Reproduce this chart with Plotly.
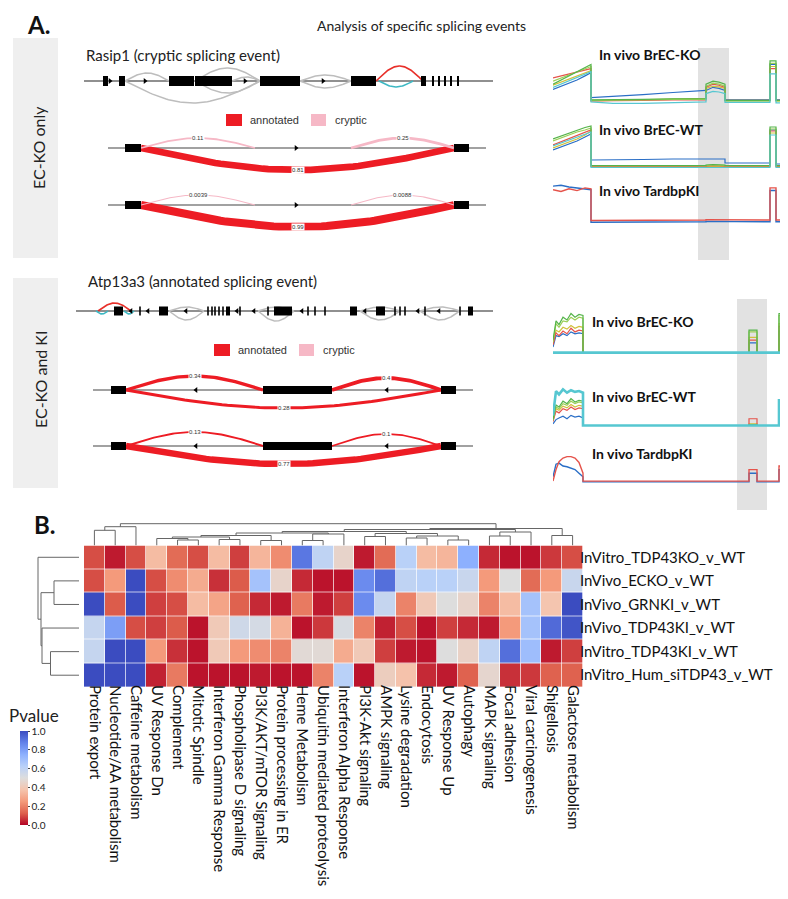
import numpy as np
import plotly.graph_objects as go

W, H = 788, 899
FONT = "Lato, 'Open Sans', sans-serif"

# ---------------- Panel B data ----------------
pathways = ["Protein export", "Nucleotide/AA metabolism", "Caffeine metabolism", "UV Response Dn",
            "Complement", "Mitotic Spindle", "Interferon Gamma Response", "Phospholipase D signaling",
            "PI3K/AKT/mTOR Signaling", "Protein processing in ER", "Heme Metabolism",
            "Ubiquitin mediated proteolysis", "Interferon Alpha Response", "PI3K-Akt signaling",
            "AMPK signaling", "Lysine degradation", "Endocytosis", "UV Response Up", "Autophagy",
            "MAPK signaling", "Focal adhesion", "Viral carcinogenesis", "Shigellosis",
            "Galactose metabolism"]
comparisons = ["InVitro_TDP43KO_v_WT", "InVivo_ECKO_v_WT", "InVivo_GRNKI_v_WT",
               "InVivo_TDP43KI_v_WT", "InVitro_TDP43KI_v_WT", "InVitro_Hum_siTDP43_v_WT"]
pv_invitro_tdp43ko = [0.10, 0.03, 0.10, 0.35, 0.15, 0.10, 0.35, 0.08, 0.33, 0.22, 0.90, 0.60,
                      0.45, 0.03, 0.15, 0.62, 0.35, 0.33, 0.75, 0.05, 0.02, 0.02, 0.07, 0.10]
pv_invivo_ecko = [0.10, 0.25, 1.00, 0.10, 0.22, 0.30, 0.06, 0.12, 0.68, 0.45, 0.05, 0.02,
                  0.02, 0.85, 0.92, 0.60, 0.62, 0.62, 0.57, 0.25, 0.50, 0.15, 0.25, 0.57]
pv_invivo_grnki = [1.00, 0.12, 1.00, 0.08, 0.10, 0.35, 0.28, 0.13, 0.05, 0.03, 0.18, 0.03,
                   0.08, 0.85, 0.58, 0.20, 0.40, 0.50, 0.45, 0.20, 0.35, 0.68, 0.38, 1.00]
pv_invivo_tdp43ki = [0.58, 0.80, 0.10, 0.08, 0.12, 0.02, 0.40, 0.55, 0.53, 0.32, 0.02, 0.07,
                     0.52, 0.20, 0.04, 0.10, 0.02, 0.08, 0.05, 0.03, 0.25, 0.68, 0.93, 0.98]
pv_invitro_tdp43ki = [0.58, 1.00, 1.00, 0.25, 0.06, 0.02, 0.40, 0.25, 0.22, 0.20, 0.48, 0.48,
                      0.30, 0.40, 0.08, 0.03, 0.02, 0.50, 0.44, 0.60, 0.92, 0.70, 0.03, 0.08]
pv_invitro_hum_sitdp43 = [1.00, 1.00, 1.00, 0.04, 0.18, 0.02, 0.02, 0.02, 0.03, 0.02, 0.02, 0.20,
                          0.62, 0.02, 0.42, 0.37, 0.05, 0.03, 0.13, 0.46, 0.06, 0.07, 0.13, 0.13]
pvalues = [pv_invitro_tdp43ko, pv_invivo_ecko, pv_invivo_grnki,
           pv_invivo_tdp43ki, pv_invitro_tdp43ki, pv_invitro_hum_sitdp43]
cbar_ticks = [0.0, 0.2, 0.4, 0.6, 0.8, 1.0]

# dendrogram linkages: (child_a, child_b, height); new clusters numbered after leaves
col_linkage = [
    (4, 5, 5.5), (3, 24, 7.0), (6, 7, 6.0), (25, 26, 8.5), (8, 9, 5.0), (27, 28, 10.0),
    (10, 11, 5.0), (30, 12, 11.5), (0, 1, 15.2), (32, 2, 18.8), (13, 14, 9.0), (15, 16, 7.5),
    (17, 18, 5.5), (35, 36, 9.5), (34, 37, 12.0), (19, 20, 9.5), (39, 21, 13.5), (22, 23, 10.0),
    (29, 31, 12.5), (42, 38, 14.0), (43, 40, 16.0), (44, 41, 17.0), (33, 45, 21.8),
]
row_linkage = [(4, 5, 28.5), (1, 2, 25.0), (3, 6, 37.0), (7, 8, 38.0), (0, 9, 41.0)]

# ---------------- Panel A data ----------------
rasip1_span = [16, 425]
rasip1_exons = [(35, 40), (51, 57), (101, 126), (127, 164), (192, 232), (283, 308), (353, 358),
                (364, 366), (370, 372), (376, 378), (382, 384), (389, 391)]
rasip1_arrows = [42, 77, 177, 255]
rasip1_grey_arcs = [(57, 101, 8), (57, 192, -22), (127, 192, 13), (127, 192, -12),
                    (164, 192, 4), (232, 283, 6), (232, 283, -7)]
rasip1_red_arcs = [(308, 355, 15)]
rasip1_teal_arcs = [(311, 345, -6)]

rasip1_sashimi_span = [40, 418]
rasip1_sashimi_exons = [(57, 73), (386, 401)]
rasip1_sashimi_arrows = [228]
rasip1_junctions = [(73, 386, -22, "annotated"), (73, 187, 10, "cryptic"), (283, 386, 10, "cryptic")]
rasip1_psi_track1 = [0.81, 0.11, 0.25]
rasip1_psi_track2 = [0.99, 0.0039, 0.0088]

atp_span = [8, 425]
atp_exons = [(46, 55), (91, 100), (158, 162), (206, 224), (282, 289), (308, 317), (400, 405)]
atp_bars = [72, 140, 144, 147, 151, 155, 172, 200, 240, 247, 257, 327, 332, 337, 357, 392]
atp_arrows = [63, 80, 118, 169, 186, 234, 297, 350, 371]
atp_grey_arcs = [(101, 136, -9), (101, 136, 4), (190, 226, -10), (190, 226, 4),
                 (292, 332, -9), (292, 332, 4), (352, 392, -9), (352, 392, 4)]
atp_red_arcs = [(30, 63, 8)]
atp_teal_arcs = [(28, 40, -3), (56, 66, -3)]

atp_sashimi_span = [25, 405]
atp_sashimi_exons = [(43, 58), (195, 264), (373, 388)]
atp_sashimi_arrows = [128, 319]
atp_junctions = [(58, 195, 14, "annotated"), (264, 373, 12, "annotated"), (58, 373, -18, "annotated")]
atp_psi_track1 = [0.34, 0.4, 0.28]
atp_psi_track2 = [0.13, 0.1, 0.77]

sample_names = ["blue", "yellow", "red", "lime", "green", "teal"]
sample_colors = {"green": "#55b44a", "lime": "#9ccf55", "red": "#e5534b",
                 "yellow": "#d1bf3c", "blue": "#2a6ec6", "teal": "#56c7d1"}
rasip1_cov_x = [0, 8, 16, 24, 32, 38, 38, 60, 90, 120, 145, 153, 153, 160, 166, 172, 172,
                200, 217, 217, 223, 223, 232, 232, 238, 243]
rasip1_ko = {
    "green":  [40, 48, 56, 64, 72, 78, 10, 10, 11, 12, 12, 12, 40, 46, 44, 40, 9, 9, 9, 85, 85, 9, 9, 90, 90, 88],
    "lime":   [46, 52, 58, 64, 70, 74, 9, 9, 10, 11, 11, 11, 36, 42, 40, 36, 8, 8, 8, 80, 80, 8, 8, 86, 86, 84],
    "red":    [52, 56, 60, 63, 67, 70, 8, 8, 9, 10, 10, 10, 34, 40, 38, 34, 9, 9, 9, 70, 70, 9, 9, 76, 76, 74],
    "yellow": [38, 44, 50, 56, 62, 66, 8, 9, 10, 12, 13, 13, 32, 36, 35, 32, 8, 8, 8, 74, 74, 8, 8, 80, 80, 78],
    "blue":   [30, 36, 42, 48, 56, 62, 14, 16, 20, 24, 28, 28, 28, 34, 32, 28, 10, 10, 10, 78, 78, 10, 10, 84, 84, 82],
    "teal":   [34, 40, 46, 52, 58, 64, 6, 3, 3, 5, 6, 6, 22, 26, 25, 22, 5, 5, 5, 60, 60, 4, 4, 66, 66, 64],
}
rasip1_wt = {
    "green":  [62, 68, 74, 80, 85, 88, 9, 9, 9, 9, 9, 9, 10, 11, 11, 10, 9, 9, 9, 86, 86, 9, 9, 90, 90, 88],
    "lime":   [58, 64, 70, 76, 80, 84, 8, 8, 8, 8, 8, 8, 9, 10, 10, 9, 8, 8, 8, 82, 82, 8, 8, 86, 86, 84],
    "red":    [50, 56, 62, 68, 74, 80, 7, 7, 7, 7, 7, 7, 8, 9, 9, 8, 7, 7, 7, 78, 78, 7, 7, 82, 82, 80],
    "yellow": [44, 50, 56, 62, 70, 78, 7, 7, 7, 7, 7, 7, 8, 8, 8, 8, 7, 7, 7, 74, 74, 7, 7, 80, 80, 78],
    "blue":   [40, 46, 52, 58, 66, 72, 20, 20, 21, 22, 22, 22, 22, 22, 22, 22, 14, 14, 14, 80, 80, 12, 12, 84, 84, 82],
    "teal":   [48, 54, 60, 66, 72, 76, 5, 5, 5, 5, 5, 5, 6, 6, 6, 6, 5, 5, 5, 70, 70, 5, 5, 74, 74, 72],
}
rasip1_ki = {
    "blue": [86, 88, 84, 82, 80, 78, 4, 4, 4, 4, 5, 5, 6, 6, 6, 6, 5, 5, 5, 76, 76, 5, 5, 80, 80, 80],
    "red":  [78, 74, 80, 76, 82, 80, 8, 8, 8, 9, 9, 9, 10, 10, 10, 10, 9, 9, 9, 82, 82, 9, 9, 86, 86, 86],
}
atp_cov_x = [0, 3, 6, 10, 14, 18, 22, 26, 30, 30, 100, 196, 196, 204, 204, 226, 226, 236, 236, 243]
atp_ko = {
    "green":  [30, 72, 64, 80, 74, 88, 80, 86, 84, 3, 3, 3, 52, 52, 3, 3, 88, 88, 3, 3],
    "lime":   [25, 66, 58, 72, 70, 80, 74, 80, 78, 3, 3, 3, 48, 48, 3, 3, 84, 84, 3, 3],
    "red":    [20, 46, 40, 50, 44, 56, 48, 52, 50, 3, 3, 3, 30, 30, 3, 3, 60, 60, 3, 3],
    "yellow": [22, 52, 48, 58, 54, 62, 56, 60, 58, 3, 3, 3, 36, 36, 3, 3, 66, 66, 3, 3],
    "blue":   [15, 40, 38, 44, 40, 48, 44, 46, 44, 3, 3, 3, 24, 24, 3, 3, 50, 50, 3, 3],
    "teal":   [3, 3, 3, 3, 3, 3, 3, 3, 3, 3, 3, 3, 3, 3, 3, 3, 3, 3, 3, 3],
}
atp_wt = {
    "green":  [20, 55, 50, 64, 58, 70, 62, 66, 64, 6, 6, 6, 8, 8, 6, 6, 62, 62, 6, 6],
    "lime":   [18, 50, 46, 58, 54, 64, 58, 62, 60, 6, 6, 6, 8, 8, 6, 6, 58, 58, 6, 6],
    "red":    [15, 40, 36, 46, 42, 50, 44, 48, 46, 6, 6, 6, 22, 22, 6, 6, 48, 48, 6, 6],
    "yellow": [18, 46, 42, 52, 48, 56, 50, 54, 52, 6, 6, 6, 10, 10, 6, 6, 54, 54, 6, 6],
    "blue":   [10, 20, 24, 28, 22, 30, 26, 28, 24, 6, 6, 6, 8, 8, 6, 6, 30, 30, 6, 6],
    "teal":   [30, 88, 80, 92, 84, 90, 86, 88, 84, 6, 6, 6, 6, 6, 6, 6, 66, 66, 6, 6],
}
atp_ki = {
    "blue": [20, 55, 58, 50, 48, 44, 40, 30, 20, 6, 6, 6, 30, 30, 6, 6, 40, 40, 6, 6],
    "red":  [8, 40, 62, 72, 76, 76, 72, 60, 30, 8, 8, 8, 40, 40, 8, 8, 50, 50, 8, 8],
}
rasip1_band = (145, 176)
atp_band = (184, 214)
coverage_titles = ["In vivo BrEC-KO", "In vivo BrEC-WT", "In vivo TardbpKI"]

# ---------------- helpers ----------------
fig = go.Figure()
axes = {}
shapes = []
annots = []


def add_axes(i, px0, px1, py0, py1, xr, yr):
    xn = "xaxis" if i == 1 else f"xaxis{i}"
    yn = "yaxis" if i == 1 else f"yaxis{i}"
    xs = "x" if i == 1 else f"x{i}"
    ys = "y" if i == 1 else f"y{i}"
    base = dict(showgrid=False, zeroline=False, showticklabels=False, ticks="",
                showline=False, fixedrange=True)
    axes[xn] = dict(domain=[px0 / W, px1 / W], range=xr, anchor=ys, **base)
    axes[yn] = dict(domain=[1 - py1 / H, 1 - py0 / H], range=yr, anchor=xs, **base)
    return xs, ys


def line(ax, x, y, color, width):
    fig.add_trace(go.Scatter(x=x, y=y, mode="lines", line=dict(color=color, width=width),
                             xaxis=ax[0], yaxis=ax[1], hoverinfo="skip", showlegend=False))


def arc(ax, a, b, h, color, width):
    t = np.linspace(0, 1, 60)
    line(ax, a + (b - a) * t, h * np.sin(np.pi * t), color, width)


def rect(ax, a, b, hh, color="black"):
    shapes.append(dict(type="rect", xref=ax[0], yref=ax[1], x0=a, x1=b, y0=-hh, y1=hh,
                       fillcolor=color, line=dict(width=0), layer="above"))


def text(xp, yp, s, size, color="#222", bold=False, angle=0, xanchor="left", fam=FONT):
    annots.append(dict(x=xp / W, y=1 - yp / H, xref="paper", yref="paper",
                       text=(f"<b>{s}</b>" if bold else s), borderpad=0,
                       showarrow=False, xanchor=xanchor, yanchor="middle", textangle=angle,
                       font=dict(size=size, color=color, family=fam)))


def paper_rect(x0, x1, y0, y1, color, layer="below"):
    shapes.append(dict(type="rect", xref="paper", yref="paper", x0=x0 / W, x1=x1 / W,
                       y0=1 - y1 / H, y1=1 - y0 / H, fillcolor=color, line=dict(width=0), layer=layer))


def dendro(linkage, n):
    pos = {i: float(i) for i in range(n)}
    hgt = {i: 0.0 for i in range(n)}
    xs, ys = [], []
    for k, (a, b, h) in enumerate(linkage):
        xs += [pos[a], pos[a], pos[b], pos[b], None]
        ys += [hgt[a], h, h, hgt[b], None]
        pos[n + k] = (pos[a] + pos[b]) / 2
        hgt[n + k] = h
    return xs, ys


RED, PINK, GREY, TEAL = "#ed1c24", "#f6b8c6", "#bdbdbd", "#3db8c3"

# ---------------- Panel B ----------------
coolwarm_r = [[0.0, "#b40426"], [0.125, "#de604d"], [0.25, "#f49a7b"], [0.375, "#f5c4ad"],
              [0.5, "#dddddd"], [0.625, "#b8d0f9"], [0.75, "#8db0fe"], [0.875, "#6282ea"],
              [1.0, "#3b4cc0"]]
hx, hy = add_axes(1, 76, 575, 537.5, 679, [-0.5, 23.5], [5.5, -0.5])
fig.add_trace(go.Heatmap(
    z=pvalues, x=list(range(len(pathways))), y=list(range(len(comparisons))),
    zmin=0, zmax=1, colorscale=coolwarm_r, xgap=0.7, ygap=0.7, hoverinfo="skip",
    colorbar=dict(x=12 / W, xanchor="left", y=1 - 817 / H, yanchor="bottom", len=94 / H,
                  thickness=8, outlinewidth=0, xpad=0, ypad=0, tickvals=cbar_ticks,
                  ticktext=[f"{v:.1f}" for v in cbar_ticks], ticks="outside", ticklen=2,
                  tickfont=dict(size=10, family="'Liberation Sans Narrow', " + FONT, color="#222"))))
axes["xaxis"].update(showticklabels=True, tickvals=list(range(len(pathways))), ticktext=pathways,
                     tickangle=90, ticklabelstandoff=-3,
                     tickfont=dict(size=15, family=FONT, color="#111"))
axes["yaxis"].update(showticklabels=True, tickvals=list(range(len(comparisons))), ticktext=comparisons,
                     side="right", ticklabelstandoff=-4,
                     tickfont=dict(size=15, family=FONT, color="#111"))
text(0, 707, "Pvalue", 17)

cdx, cdy = dendro(col_linkage, len(pathways))
ax2 = add_axes(2, 76, 575, 505, 537.5, [-0.5, 23.5], [0, 32.5])
line(ax2, cdx, cdy, "#666", 1)
rdy, rdx = dendro(row_linkage, len(comparisons))
ax3 = add_axes(3, 25, 71, 537.5, 679, [46, 0], [5.5, -0.5])
line(ax3, rdx, rdy, "#666", 1)
text(25, 516, "B.", 24, "#111", bold=True)

# ---------------- Panel A ----------------
text(18, 16, "A.", 24, "#111", bold=True)
text(413, 17, "Analysis of specific splicing events", 14, xanchor="center")
paper_rect(5, 50, 30, 250, "#efefef")
paper_rect(5, 50, 270, 480, "#efefef")
text(31, 140, "EC-KO only", 16, angle=-90, xanchor="center")
text(33, 372, "EC-KO and KI", 16, angle=-90, xanchor="center")

# Rasip1 gene model
text(77, 47, "Rasip1 (cryptic splicing event)", 15)
g1 = add_axes(4, 60, 495, 38, 108, [0, 435], [-35, 35])
line(g1, rasip1_span, [0, 0], "#222", 1.2)
for a, b, h in rasip1_grey_arcs:
    arc(g1, a, b, h, GREY, 1.5)
for a, b, h in rasip1_red_arcs:
    arc(g1, a, b, h, "#e8302a", 1.6)
for a, b, h in rasip1_teal_arcs:
    arc(g1, a, b, h, TEAL, 1.6)
for a, b in rasip1_exons:
    rect(g1, a, b, 5)
fig.add_trace(go.Scatter(x=rasip1_arrows, y=[0] * len(rasip1_arrows), mode="markers",
                         marker=dict(symbol="triangle-right", size=5, color="black"),
                         xaxis=g1[0], yaxis=g1[1], hoverinfo="skip", showlegend=False))


def legend(x_red, yc):
    paper_rect(x_red, x_red + 16, yc - 6, yc + 6, RED, "above")
    text(x_red + 23, yc, "annotated", 11, "#333", fam="'Liberation Sans', Arial, sans-serif")
    paper_rect(x_red + 85, x_red + 100, yc - 6, yc + 6, PINK, "above")
    text(x_red + 108, yc, "cryptic", 11, "#333", fam="'Liberation Sans', Arial, sans-serif")


legend(218, 112)


def sashimi(i, line_y, span, exons, arrows, arrow_sym, juncs, psis):
    ax = add_axes(i, 60, 495, line_y - 35, line_y + 35, [0, 435], [-35, 35])
    line(ax, span, [0, 0], "#444", 1.2)
    for (a, b, h, kind), p in zip(juncs, psis):
        col = RED if kind == "annotated" else PINK
        arc(ax, a, b, h, col, 1 + 7 * p)
    for a, b in exons:
        rect(ax, a, b, 4)
    fig.add_trace(go.Scatter(x=arrows, y=[0] * len(arrows), mode="markers",
                             marker=dict(symbol=arrow_sym, size=5, color="black"),
                             xaxis=ax[0], yaxis=ax[1], hoverinfo="skip", showlegend=False))
    for (a, b, h, kind), p in zip(juncs, psis):
        annots.append(dict(x=(a + b) / 2, y=h, xref=ax[0], yref=ax[1], text=f"{p:g}",
                           showarrow=False, bgcolor="white", borderpad=0,
                           font=dict(size=6, color="#333", family="'Liberation Sans', Arial")))


sashimi(5, 140, rasip1_sashimi_span, rasip1_sashimi_exons, rasip1_sashimi_arrows, "triangle-right",
        rasip1_junctions, rasip1_psi_track1)
sashimi(6, 197, rasip1_sashimi_span, rasip1_sashimi_exons, rasip1_sashimi_arrows, "triangle-right",
        rasip1_junctions, rasip1_psi_track2)

# Atp13a3 gene model
text(79, 273, "Atp13a3 (annotated splicing event)", 15)
g2 = add_axes(7, 60, 495, 268, 338, [0, 435], [-35, 35])
line(g2, atp_span, [0, 0], "#222", 1.2)
for a, b, h in atp_grey_arcs:
    arc(g2, a, b, h, GREY, 1.5)
for a, b, h in atp_red_arcs:
    arc(g2, a, b, h, "#e8302a", 1.6)
for a, b, h in atp_teal_arcs:
    arc(g2, a, b, h, TEAL, 1.6)
for a, b in atp_exons:
    rect(g2, a, b, 4.5)
for c in atp_bars:
    rect(g2, c - 0.8, c + 0.8, 4.5)
fig.add_trace(go.Scatter(x=atp_arrows, y=[0] * len(atp_arrows), mode="markers",
                         marker=dict(symbol="triangle-left", size=5, color="black"),
                         xaxis=g2[0], yaxis=g2[1], hoverinfo="skip", showlegend=False))
legend(206, 342)
sashimi(8, 382, atp_sashimi_span, atp_sashimi_exons, atp_sashimi_arrows, "triangle-left",
        atp_junctions, atp_psi_track1)
sashimi(9, 438, atp_sashimi_span, atp_sashimi_exons, atp_sashimi_arrows, "triangle-left",
        atp_junctions, atp_psi_track2)

# coverage panels
cov_specs = [
    (10, rasip1_cov_x, rasip1_ko, 45, 97, 590, 47, 1.2),
    (11, rasip1_cov_x, rasip1_wt, 112, 162, 590, 122, 1.2),
    (12, rasip1_cov_x, rasip1_ki, 172, 216, 590, 183, 1.4),
    (13, atp_cov_x, atp_ko, 300, 346, 583, 313, 1.2),
    (14, atp_cov_x, atp_wt, 378, 420, 583, 388, 1.2),
    (15, atp_cov_x, atp_ki, 440, 476, 583, 445, 1.4),
]
for k, (i, cx, samples, y0, y1, tx, ty, lw) in enumerate(cov_specs):
    ax = add_axes(i, 545, 788, y0, y1, [0, 243], [0, 100])
    for name in sample_names:
        if name in samples:
            w = 2.6 if (name == "teal" and i in (13, 14)) else lw
            line(ax, cx, samples[name], sample_colors[name], w)
    text(tx, ty, coverage_titles[k % 3], 14, "#111", bold=True)

shapes.append(dict(type="rect", xref="x10", yref="paper", x0=rasip1_band[0], x1=rasip1_band[1],
                   y0=1 - 252 / H, y1=1 - 40 / H, fillcolor="#e2e2e2", line=dict(width=0), layer="below"))
shapes.append(dict(type="rect", xref="x13", yref="paper", x0=atp_band[0], x1=atp_band[1],
                   y0=1 - 502 / H, y1=1 - 291 / H, fillcolor="#e2e2e2", line=dict(width=0), layer="below"))

fig.update_layout(width=W, height=H, margin=dict(l=0, r=0, t=0, b=0), paper_bgcolor="white",
                  plot_bgcolor="rgba(0,0,0,0)", showlegend=False, shapes=shapes, annotations=annots,
                  font=dict(family=FONT), **axes)
fig.write_html("out.html")
